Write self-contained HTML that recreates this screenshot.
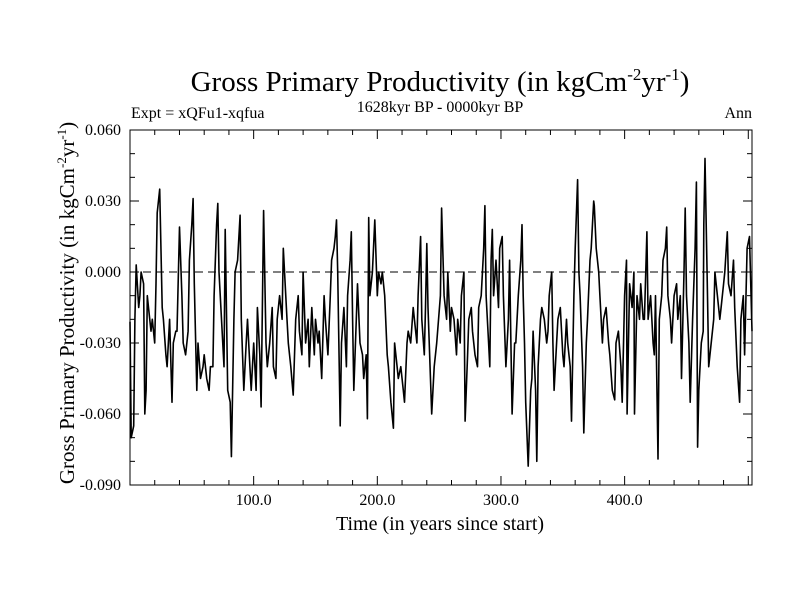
<!DOCTYPE html>
<html><head><meta charset="utf-8"><style>
body{margin:0;background:#fff}
svg text{font-family:"Liberation Serif",serif;fill:#000}
</style></head><body>
<svg id="chart" width="800" height="600">
<rect x="0" y="0" width="800" height="600" fill="#fff"/>
<text x="440" y="91" font-size="29" text-anchor="middle">Gross Primary Productivity (in kgCm<tspan font-size="17" dy="-11">-2</tspan><tspan dy="11">yr</tspan><tspan font-size="17" dy="-11">-1</tspan><tspan dy="11">)</tspan></text>
<text x="131" y="118" font-size="16">Expt = xQFu1-xqfua</text>
<text x="440" y="112" font-size="16" text-anchor="middle">1628kyr BP - 0000kyr BP</text>
<text x="752" y="118" font-size="16" text-anchor="end">Ann</text>
<text transform="translate(74,303) rotate(-90)" font-size="21" text-anchor="middle">Gross Primary Productivity (in kgCm<tspan font-size="13" dy="-8">-2</tspan><tspan dy="8">yr</tspan><tspan font-size="13" dy="-8">-1</tspan><tspan dy="8">)</tspan></text>
<text x="440" y="530" font-size="20" text-anchor="middle">Time (in years since start)</text>
<g id="axes"></g>
<g id="series"></g>
<rect x="130" y="130" width="622" height="355" fill="none" stroke="#000" stroke-width="1"/>
</svg>
<script>
const yTicks=[0.060,0.030,0.000,-0.030,-0.060,-0.090];
const yTickLabels=["0.060","0.030","0.000","-0.030","-0.060","-0.090"];
const xTicks=[100,200,300,400];
const xTickLabels=["100.0","200.0","300.0","400.0"];
const years=[0,1,3,4,5,7,8,9,11,12,13,14,15,17,18,20,21,22,24,26,27,29,30,32,34,35,37,38,40,42,43,45,47,48,50,51,52,54,55,57,59,60,62,64,65,67,68,70,71,72,74,76,77,79,81,82,84,85,87,89,90,92,94,95,97,98,100,102,103,105,106,108,110,111,113,115,116,118,119,121,123,124,127,128,130,132,134,136,137,139,140,142,144,145,147,149,150,152,153,155,157,158,160,162,163,165,166,167,168,170,171,173,175,176,178,179,180,181,183,184,186,188,189,191,192,193,194,196,198,200,201,203,204,206,208,209,211,213,214,216,217,219,221,222,224,225,227,229,230,232,233,235,236,238,239,240,241,244,246,248,251,252,254,256,257,259,260,262,264,265,267,268,270,271,273,274,276,277,279,281,282,284,286,287,288,290,291,292,293,294,296,298,299,301,302,304,306,307,308,309,311,312,314,316,317,318,319,320,322,324,325,326,328,329,330,332,333,335,337,338,339,341,342,343,345,346,348,350,351,353,354,356,357,359,360,362,363,364,366,367,369,370,372,373,375,375.5,377,379,380,382,383,385,387,388,390,392,393,395,397,398,400,401.5,402,404,406,407.5,408,410,412,413,415,416,418,419,421,423,424,425,427,428,430,431,433,434,435,437,438,440,442,443,445,446,448,449,450,452,453,455,457,458,459,460,462,463.5,464,465,467,468,470,472,473,475,477,478,480,481,483,484,486,488,489,491,493,494,496,497,499,501,503];
const gpp=[-0.021,-0.070,-0.065,-0.020,0.003,-0.015,-0.010,0.000,-0.005,-0.060,-0.050,-0.010,-0.015,-0.025,-0.020,-0.030,-0.005,0.025,0.035,-0.015,-0.020,-0.035,-0.040,-0.020,-0.055,-0.030,-0.025,-0.025,0.019,-0.010,-0.030,-0.035,-0.025,0.005,0.020,0.031,-0.005,-0.050,-0.030,-0.045,-0.040,-0.035,-0.045,-0.050,-0.040,-0.040,-0.010,0.020,0.029,0.000,-0.020,-0.040,0.018,-0.050,-0.055,-0.078,-0.020,0.000,0.005,0.024,-0.020,-0.050,-0.030,-0.020,-0.040,-0.050,-0.030,-0.050,-0.015,-0.035,-0.057,0.026,-0.030,-0.040,-0.030,-0.015,-0.040,-0.045,-0.020,-0.010,-0.020,0.010,-0.020,-0.030,-0.040,-0.052,-0.020,-0.010,-0.025,-0.035,0.000,-0.030,-0.020,-0.040,-0.015,-0.035,-0.020,-0.030,-0.025,-0.045,-0.010,-0.020,-0.035,-0.010,0.005,0.010,0.015,0.022,0.000,-0.065,-0.030,-0.015,-0.040,-0.010,0.005,0.017,-0.020,-0.050,-0.020,-0.005,-0.030,-0.035,-0.045,-0.035,-0.062,0.023,-0.010,0.000,0.022,-0.010,0.000,-0.005,0.000,-0.010,-0.035,-0.040,-0.055,-0.066,-0.030,-0.040,-0.045,-0.040,-0.050,-0.055,-0.030,-0.025,-0.030,-0.015,-0.020,-0.030,-0.010,0.015,-0.020,-0.035,-0.015,0.012,-0.015,-0.060,-0.040,-0.030,-0.010,0.027,-0.010,-0.020,0.000,-0.025,-0.015,-0.020,-0.035,-0.020,-0.030,-0.010,0.000,-0.063,-0.035,-0.020,-0.015,-0.025,-0.035,-0.040,-0.015,-0.010,0.010,0.028,-0.010,-0.030,-0.040,0.005,0.018,-0.010,0.005,-0.015,0.010,0.015,-0.010,-0.040,-0.020,0.005,-0.030,-0.060,-0.030,-0.030,-0.010,0.005,0.020,-0.010,-0.030,-0.055,-0.082,-0.050,-0.045,-0.025,-0.050,-0.080,-0.040,-0.020,-0.015,-0.020,-0.030,-0.025,-0.010,0.000,-0.030,-0.050,-0.030,-0.020,-0.015,-0.035,-0.040,-0.020,-0.030,-0.040,-0.063,-0.010,0.010,0.039,0.000,-0.010,-0.040,-0.068,-0.030,-0.020,0.005,0.010,0.030,0.028,0.010,0.000,-0.010,-0.030,-0.020,-0.015,-0.030,-0.035,-0.050,-0.054,-0.030,-0.025,-0.040,-0.055,-0.010,0.005,-0.060,-0.005,-0.015,0.000,-0.060,-0.010,-0.020,-0.005,-0.020,-0.020,0.017,-0.020,-0.010,-0.030,-0.035,-0.010,-0.079,-0.020,-0.010,0.005,0.010,0.019,-0.010,-0.020,-0.030,-0.010,-0.005,-0.020,-0.010,-0.045,0.000,0.027,-0.010,-0.030,-0.055,-0.020,0.010,0.038,-0.074,-0.050,-0.030,-0.025,0.020,0.048,-0.010,-0.040,-0.030,-0.020,0.000,-0.010,-0.020,-0.015,-0.005,0.000,0.017,-0.005,-0.010,0.005,-0.015,-0.040,-0.055,-0.020,-0.010,-0.035,0.010,0.015,-0.025,-0.033];
const X0=130,X1=752,Y0=485,Y1=130,XMAX=503,YMIN=-0.090,YMAX=0.060;
function xs(v){return X0+(v/XMAX)*(X1-X0);}
function ys(v){return Y0-(v-YMIN)/(YMAX-YMIN)*(Y0-Y1);}
const NS="http://www.w3.org/2000/svg";
const axes=document.getElementById('axes');
function mk(tag,attrs,parent){const e=document.createElementNS(NS,tag);for(const k in attrs)e.setAttribute(k,attrs[k]);parent.appendChild(e);return e;}
for(let i=0;i<=15;i++){
  const v=YMIN+i*0.01;const y=ys(v);const major=(i%3===0);const len=major?9:5;
  const l=mk('line',{x1:X0,x2:X0+len,y1:y,y2:y,stroke:'#000'},axes);
  
  
  const r=mk('line',{x1:X1,x2:X1-len,y1:y,y2:y,stroke:'#000'},axes);
  
  
}
yTicks.forEach((v,i)=>{
  const t=mk('text',{x:121,y:ys(v)+5,'font-size':'16','text-anchor':'end'},axes);
  t.textContent=yTickLabels[i];
  
  
});
for(let v=20;v<XMAX;v+=20){
  const x=xs(v);const len=(v%100===0)?9:5;
  const b=mk('line',{x1:x,x2:x,y1:Y0,y2:Y0-len,stroke:'#000'},axes);
  
  
  const t=mk('line',{x1:x,x2:x,y1:Y1,y2:Y1+len,stroke:'#000'},axes);
  
  
}
xTicks.forEach((v,i)=>{
  const t=mk('text',{x:xs(v),y:505,'font-size':'16','text-anchor':'middle'},axes);
  t.textContent=xTickLabels[i];
  
  
});
const zl=mk('line',{x1:X0,x2:X1,y1:ys(0),y2:ys(0),stroke:'#000','stroke-dasharray':'8,5','stroke-width':'1'},axes);


const pts=years.map((yr,i)=>xs(yr).toFixed(1)+','+ys(gpp[i]).toFixed(1)).join(' ');
const line=mk('polyline',{points:pts,fill:'none',stroke:'#000','stroke-width':'1.6','stroke-linejoin':'round'},document.getElementById('series'));


</script>
</body></html>
